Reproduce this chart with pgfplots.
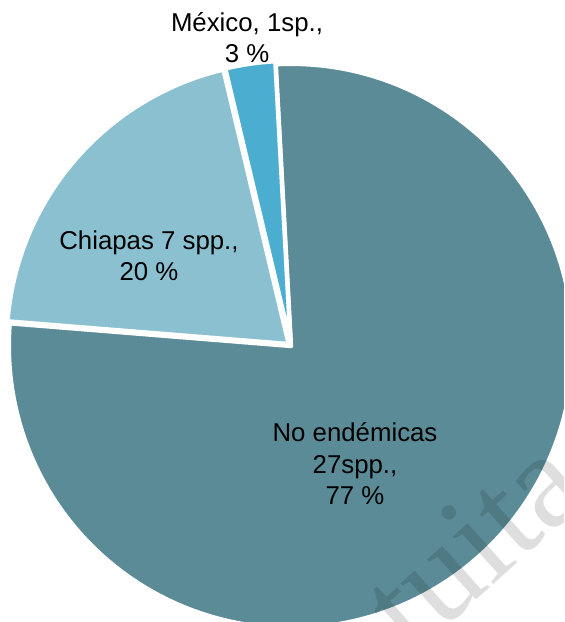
\documentclass[border=0pt]{standalone}
\usepackage{pgfplots}
\pgfplotsset{compat=1.18}
\usepgfplotslibrary{polar}
\usepackage{fontspec}
\setmainfont{Liberation Sans}
\newfontfamily\wmfont{Liberation Serif}
\definecolor{cNo}{RGB}{91,139,151}
\definecolor{cChi}{RGB}{139,192,209}
\definecolor{cMex}{RGB}{75,174,208}
% species counts
\def\nMex{1}
\def\nChi{7}
\def\nNo{27}
\def\startang{93.1}
\pgfmathsetmacro{\tot}{\nMex+\nChi+\nNo}
\pgfmathsetmacro{\aA}{\startang}
\pgfmathsetmacro{\aB}{\aA+360*\nMex/\tot}
\pgfmathsetmacro{\aC}{\aB+360*\nChi/\tot}
\pgfmathsetmacro{\aCm}{\aC-360}
\begin{document}
\begin{tikzpicture}
\clip (-145.5pt,-138pt) rectangle (136.5pt,173pt);
\begin{polaraxis}[hide axis, scale only axis, width=282.2pt, height=282.2pt,
  ymin=0, ymax=1, at={(0pt,0pt)}, anchor=center, clip=false]
\addplot[fill=cNo, draw=white, line width=2.2pt, line join=round, domain=\aCm:\aA, samples=150] {1} -- (axis cs:0,0) -- cycle;
\addplot[fill=cChi, draw=white, line width=2.2pt, line join=round, domain=\aB:\aC, samples=60, xshift=-1.14pt, yshift=0.98pt] {1} -- (axis cs:0,0) -- cycle;
\addplot[fill=cMex, draw=white, line width=2.2pt, line join=round, domain=\aA:\aB, samples=20, xshift=-0.21pt, yshift=1.48pt] {1} -- (axis cs:0,0) -- cycle;
\end{polaraxis}
\node[rotate=42, anchor=base west, inner sep=0, text=black, text opacity=0.13,
  font=\wmfont\fontsize{68}{68}\selectfont] at (-3.55pt,-213.75pt) {gratuita};
\begin{scope}[every node/.style={align=center, inner sep=0, font=\fontsize{12.9}{15.75}\selectfont}]
\node at (-22pt,154.25pt) {México, 1sp.,\\3 \%};
\node at (-71pt,45pt) {Chiapas 7 spp.,\\20 \%};
\node at (32pt,-59pt) {No endémicas\\27spp.,\\77 \%};
\end{scope}
\end{tikzpicture}
\end{document}
